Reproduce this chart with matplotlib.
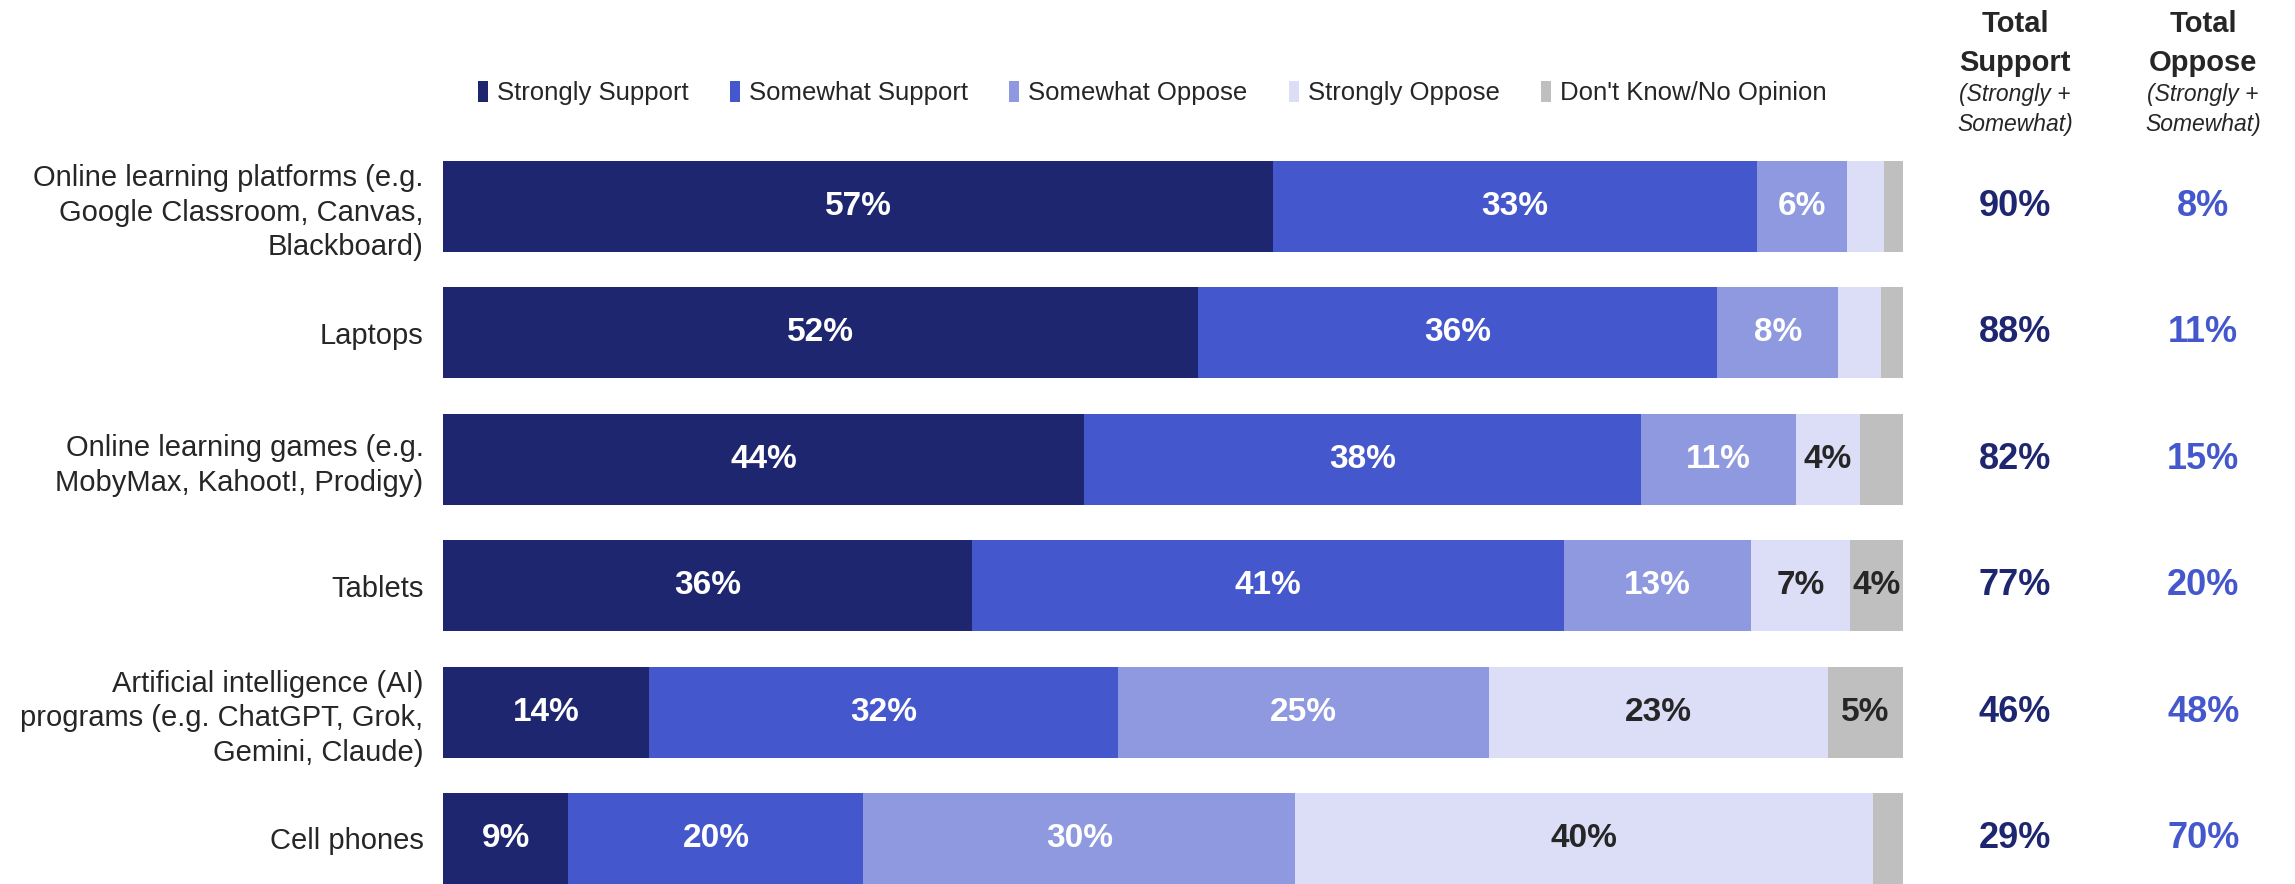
import numpy as np
import matplotlib
matplotlib.use("Agg")
import matplotlib.pyplot as plt
from matplotlib.patches import Patch
import matplotlib.transforms as mtransforms

plt.rcParams['font.family'] = ['Liberation Sans', 'DejaVu Sans']

# Data (shares; labels are the rounded values)
categories = [
    "Online learning platforms (e.g.\nGoogle Classroom, Canvas,\nBlackboard)",
    "Laptops",
    "Online learning games (e.g.\nMobyMax, Kahoot!, Prodigy)",
    "Tablets",
    "Artificial intelligence (AI)\nprograms (e.g. ChatGPT, Grok,\nGemini, Claude)",
    "Cell phones",
]
series_names = ["Strongly Support", "Somewhat Support", "Somewhat Oppose",
                "Strongly Oppose", "Don't Know/No Opinion"]
strongly_support = [56.9, 51.7, 43.9, 36.3, 14.1, 8.6]
somewhat_support = [33.1, 35.6, 38.1, 40.6, 32.1, 20.2]
somewhat_oppose = [6.2, 8.3, 10.6, 12.8, 25.4, 29.6]
strongly_oppose = [2.5, 2.9, 4.4, 6.8, 23.2, 39.6]
dont_know = [1.3, 1.5, 2.9, 3.6, 5.1, 2.0]
total_support = [90, 88, 82, 77, 46, 29]
total_oppose = [8, 11, 15, 20, 48, 70]

colors = ["#1f2670", "#4557cc", "#8e99e0", "#dcddf6", "#bfbfbf"]
label_colors = ["white", "white", "white", "#262626", "#262626"]

data = np.array([strongly_support, somewhat_support, somewhat_oppose,
                 strongly_oppose, dont_know], dtype=float)
shares = data / data.sum(axis=0) * 100

fig = plt.figure(figsize=(22.95, 8.84), dpi=100)
ax = fig.add_axes([0.193, 0.0, 0.636, 0.818])

y = np.arange(len(categories))
left = np.zeros(len(categories))
for i, name in enumerate(series_names):
    ax.barh(y, shares[i], left=left, height=0.72, color=colors[i], label=name)
    for j in range(len(categories)):
        if data[i, j] >= 3.5:
            ax.text(left[j] + shares[i, j] / 2, y[j], f"{round(data[i, j])}%",
                    ha='center', va='center', fontsize=24, fontweight='bold',
                    color=label_colors[i])
    left += shares[i]

ax.set_xlim(0, 100)
ax.set_ylim(len(categories) - 1 + 0.36, -0.36)
ax.set_yticks(y)
ax.set_yticklabels(categories, fontsize=21, color='#262626', linespacing=1.3)
ax.tick_params(axis='y', length=0, pad=14)
ax.set_xticks([])
for s in ax.spines.values():
    s.set_visible(False)

# Totals columns
trans = mtransforms.blended_transform_factory(fig.transFigure, ax.transData)
for j in range(len(categories)):
    ax.text(0.878, y[j], f"{total_support[j]}%", transform=trans, ha='center',
            va='center', fontsize=26, fontweight='bold', color=colors[0])
    ax.text(0.96, y[j], f"{total_oppose[j]}%", transform=trans, ha='center',
            va='center', fontsize=26, fontweight='bold', color=colors[1])

for x, word in [(0.878, "Support"), (0.96, "Oppose")]:
    fig.text(x, 0.973, "Total", ha='center', va='center', fontsize=21,
             fontweight='bold', color='#262626')
    fig.text(x, 0.929, word, ha='center', va='center', fontsize=21,
             fontweight='bold', color='#262626')
    fig.text(x, 0.893, "(Strongly +", ha='center', va='center', fontsize=16.5,
             style='italic', color='#262626')
    fig.text(x, 0.859, "Somewhat)", ha='center', va='center', fontsize=16.5,
             style='italic', color='#262626')

handles = [Patch(facecolor=c) for c in colors]
fig.legend(handles, series_names, loc='center', bbox_to_anchor=(0.502, 0.895),
           ncol=5, frameon=False, fontsize=18.5, handlelength=0.4,
           handleheight=0.9, handletextpad=0.35, columnspacing=1.6,
           labelcolor='#262626')

fig.savefig("out.png", dpi=100)
